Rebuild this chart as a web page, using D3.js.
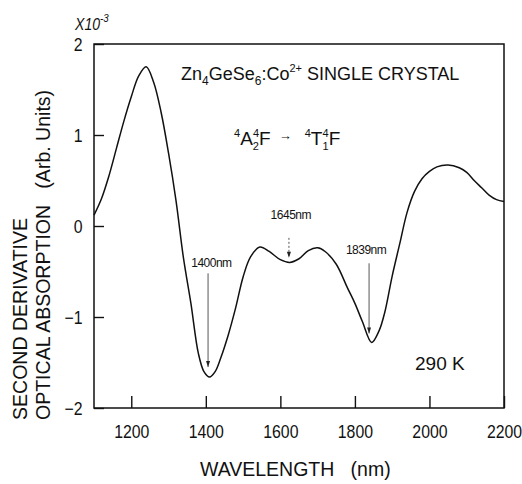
<!DOCTYPE html>
<html>
<head>
<meta charset="utf-8">
<script src="https://cdn.jsdelivr.net/npm/d3@7"></script>
<style>
body { margin: 0; background: #fff; }
text { fill: #111; }
</style>
</head>
<body>
<script>
// wavelength (nm) and second derivative (x10^-3)
var wavelength = [1100, 1120, 1140, 1160, 1180, 1200, 1220, 1240, 1260, 1280,
    1300, 1320, 1340, 1360, 1380, 1395, 1410, 1425, 1440, 1460,
    1480, 1500, 1520, 1545, 1570, 1600, 1625, 1650, 1675, 1700,
    1720, 1750, 1780, 1800, 1820, 1845, 1865, 1880, 1900, 1920,
    1940, 1960, 1980, 2000, 2020, 2050, 2080, 2100, 2120, 2140,
    2160, 2180, 2200];
var deriv = [0.12, 0.30, 0.55, 0.85, 1.15, 1.42, 1.65, 1.75, 1.58, 1.25,
    0.80, 0.28, -0.35, -0.85, -1.40, -1.60, -1.66, -1.60, -1.45, -1.20,
    -0.90, -0.56, -0.34, -0.23, -0.28, -0.37, -0.40, -0.36, -0.27, -0.24,
    -0.28, -0.42, -0.68, -0.85, -1.05, -1.28, -1.15, -0.95, -0.55, -0.20,
    0.15, 0.38, 0.52, 0.60, 0.65, 0.67, 0.64, 0.59, 0.50, 0.42,
    0.34, 0.29, 0.27];
var xTicks = [1200, 1400, 1600, 1800, 2000, 2200];
var yTicks = [-2, -1, 0, 1, 2];

// peak markers: label, arrow x, arrow top/bottom, label x/y, dashed?
var peakLabels = ['1400nm', '1645nm', '1839nm'];
var peakX = [1406, 1623, 1838];
var peakTop = [-0.52, -0.13, -0.41];
var peakBottom = [-1.55, -0.35, -1.18];
var labelX = [1415, 1628, 1830];
var labelY = [-0.45, 0.08, -0.31];
var peakDashed = [false, true, false];

var W = 522, H = 484;
var margin = {left: 94, top: 44, right: 18, bottom: 76};
var w = W - margin.left - margin.right;
var h = H - margin.top - margin.bottom;

var svg = d3.select('body').append('svg')
    .attr('width', W)
    .attr('height', H)
    .style('font-family', 'Arial, "Liberation Sans", sans-serif');

var x = d3.scaleLinear().domain([1100, 2200]).range([0, w]);
var y = d3.scaleLinear().domain([-2, 2]).range([h, 0]);

var g = svg.append('g')
    .attr('transform', 'translate(' + margin.left + ',' + margin.top + ')');

var xAxis = d3.axisBottom(x).tickValues(xTicks)
    .tickSizeInner(-12).tickSizeOuter(0).tickPadding(17)
    .tickFormat(d3.format('d'));
var gx = g.append('g')
    .attr('transform', 'translate(0,' + h + ')')
    .call(xAxis);

var yAxis = d3.axisLeft(y).tickValues(yTicks)
    .tickSizeInner(-10).tickSizeOuter(0).tickPadding(11)
    .tickFormat(d3.format('d'));
var gy = g.append('g').call(yAxis);

[gx, gy].forEach(function(a) {
    a.select('.domain').remove();
    a.selectAll('line').attr('stroke', '#111').attr('stroke-width', 1.4);
    a.selectAll('text')
        .attr('fill', '#111')
        .style('font-size', '18px');
});
// the scan's lettering is narrow: squeeze it a bit
gx.selectAll('text').attr('transform', 'scale(0.88,1)');
gy.selectAll('text').attr('dy', '0.35em').attr('x', -13)
    .attr('transform', 'scale(0.88,1)');

g.append('rect')
    .attr('width', w)
    .attr('height', h)
    .attr('fill', 'none')
    .attr('stroke', '#111')
    .attr('stroke-width', 1.5);

var line = d3.line()
    .x(function(d, i) { return x(wavelength[i]); })
    .y(function(d) { return y(d); })
    .curve(d3.curveCatmullRom);

g.append('path')
    .datum(deriv)
    .attr('d', line)
    .attr('fill', 'none')
    .attr('stroke', '#111')
    .attr('stroke-width', 1.5);

// arrows
peakLabels.forEach(function(lbl, i) {
    g.append('line')
        .attr('x1', x(peakX[i])).attr('x2', x(peakX[i]))
        .attr('y1', y(peakTop[i])).attr('y2', y(peakBottom[i]))
        .attr('stroke', '#444')
        .attr('stroke-width', 0.9)
        .attr('stroke-dasharray', peakDashed[i] ? '2,2' : null);
    g.append('path')
        .attr('d', 'M' + (x(peakX[i]) - 2) + ',' + (y(peakBottom[i]) - 6) +
            'L' + x(peakX[i]) + ',' + y(peakBottom[i]) +
            'L' + (x(peakX[i]) + 2) + ',' + (y(peakBottom[i]) - 6) + 'Z')
        .attr('fill', '#222');
    g.append('text')
        .attr('x', x(labelX[i]))
        .attr('y', y(labelY[i]))
        .attr('text-anchor', 'middle')
        .style('font-size', '12px')
        .style('letter-spacing', '-0.5px')
        .text(lbl);
});

// title
var t1 = svg.append('text')
    .attr('x', 181).attr('y', 80)
    .style('font-size', '18px');
t1.append('tspan').text('Zn');
t1.append('tspan').attr('dy', 5).style('font-size', '12px').text('4');
t1.append('tspan').attr('dy', -5).text('GeSe');
t1.append('tspan').attr('dy', 5).style('font-size', '12px').text('6');
t1.append('tspan').attr('dy', -5).text(':Co');
t1.append('tspan').attr('dy', -8).style('font-size', '11px').text('2+');
t1.append('tspan').attr('dy', 8).text(' SINGLE CRYSTAL');

var t2 = svg.append('text')
    .attr('x', 234).attr('y', 145)
    .style('font-size', '19px');
t2.append('tspan').attr('dy', -8).style('font-size', '11px').text('4');
t2.append('tspan').attr('dy', 8).text('A');
t2.append('tspan').attr('dy', 5).style('font-size', '11px').text('2');
t2.append('tspan').attr('dy', -13).attr('dx', -6).style('font-size', '11px').text('4');
t2.append('tspan').attr('dy', 8).text('F');
t2.append('tspan').attr('dy', -5).attr('dx', 8).style('font-size', '13px')
    .style('font-weight', 'bold').text('\u2192');
t2.append('tspan').attr('dy', -3).attr('dx', 13).style('font-size', '11px').text('4');
t2.append('tspan').attr('dy', 8).text('T');
t2.append('tspan').attr('dy', 5).style('font-size', '11px').text('1');
t2.append('tspan').attr('dy', -13).attr('dx', -6).style('font-size', '11px').text('4');
t2.append('tspan').attr('dy', 8).text('F');

// temperature
svg.append('text')
    .attr('x', 415).attr('y', 370)
    .style('font-size', '19px')
    .text('290 K');

// multiplier
var mul = svg.append('text')
    .attr('transform', 'translate(75,30) scale(0.88,1)')
    .style('font-size', '16px')
    .style('font-style', 'italic');
mul.append('tspan').text('X10');
mul.append('tspan').attr('dy', -8).style('font-size', '11px').text('-3');

// axis titles
svg.append('text')
    .attr('x', 200).attr('y', 476)
    .style('font-size', '19.5px')
    .style('white-space', 'pre')
    .text('WAVELENGTH   (nm)');

svg.append('text')
    .attr('transform', 'translate(27,420) rotate(-90) scale(0.93,1)')
    .style('font-size', '21px')
    .text('SECOND DERIVATIVE');
svg.append('text')
    .attr('transform', 'translate(50,420) rotate(-90) scale(0.93,1)')
    .style('font-size', '21px')
    .style('white-space', 'pre')
    .text('OPTICAL ABSORPTION   (Arb. Units)');
</script>
</body>
</html>
